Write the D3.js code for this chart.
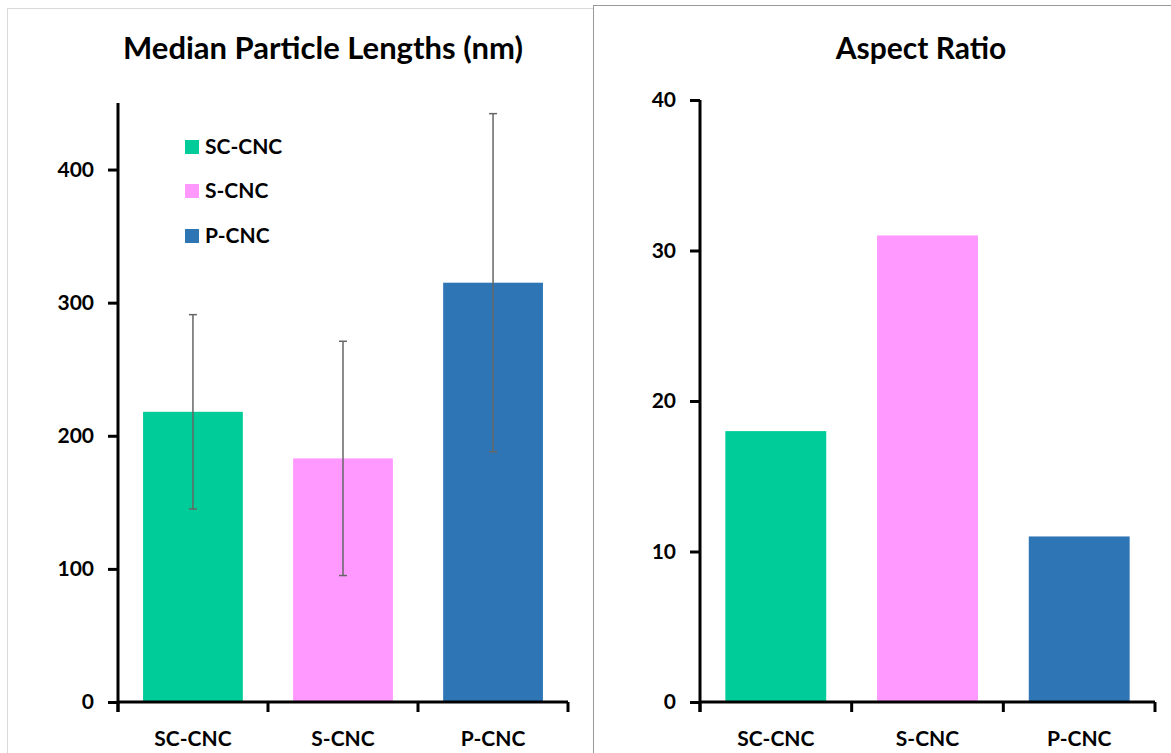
<!DOCTYPE html>
<html>
<head>
<meta charset="utf-8">
<script src="https://d3js.org/d3.v7.min.js"></script>
<style>
    body { margin: 0; background: #fff; font-family: "Lato", "Liberation Sans", sans-serif; }
    .title { font-weight: bold; text-anchor: middle; fill: #000; }
    .axis path, .axis line { stroke: #000; stroke-width: 3; }
    .axis text { font-size: 21px; font-weight: bold; fill: #000; font-family: "Lato", sans-serif; }
    .legend text { font-size: 21px; font-weight: bold; fill: #000; }
    .err { stroke: #666; stroke-width: 1.5; }
</style>
</head>
<body>
<script>
    // data
    var categories = ["SC-CNC", "S-CNC", "P-CNC"];
    var colors = ["#00CC99", "#FF99FF", "#2E75B6"];
    var lengths = [218, 183, 315];
    var lengthErr = [73, 88, 127];
    var lengthTicks = [0, 100, 200, 300, 400];
    var aspect = [18, 31, 11];
    var aspectTicks = [0, 10, 20, 30, 40];

    var svg = d3.select("body").append("svg")
        .attr("width", 1171)
        .attr("height", 753);

    // panel frames
    svg.append("rect")
        .attr("x", 7.5).attr("y", 8.5)
        .attr("width", 586).attr("height", 760)
        .attr("fill", "none").attr("stroke", "#d9d9d9");
    svg.append("rect")
        .attr("x", 593.5).attr("y", 5.5)
        .attr("width", 600).attr("height", 760)
        .attr("fill", "white").attr("stroke", "#999");

    function drawChart(opts) {
        var g = svg.append("g");

        var x = d3.scaleBand()
            .domain(categories)
            .range([opts.left, opts.right])
            .paddingInner(0.335)
            .paddingOuter(0.167);

        var y = d3.scaleLinear()
            .domain([0, opts.max])
            .range([opts.bottom, opts.top]);

        g.append("text")
            .attr("class", "title")
            .attr("x", opts.titleX)
            .attr("y", 59)
            .style("font-size", opts.titleSize + "px")
            .text(opts.title);

        g.selectAll(".bar")
            .data(opts.values)
            .enter().append("rect")
            .attr("class", "bar")
            .attr("x", function(d, i) { return x(categories[i]); })
            .attr("y", function(d) { return y(d); })
            .attr("width", x.bandwidth())
            .attr("height", function(d) { return y(0) - y(d); })
            .attr("fill", function(d, i) { return colors[i]; });

        if (opts.errors) {
            var eg = g.selectAll(".errg")
                .data(opts.values)
                .enter().append("g");
            eg.append("line")
                .attr("class", "err")
                .attr("x1", function(d, i) { return x(categories[i]) + x.bandwidth() / 2; })
                .attr("x2", function(d, i) { return x(categories[i]) + x.bandwidth() / 2; })
                .attr("y1", function(d, i) { return y(d + opts.errors[i]); })
                .attr("y2", function(d, i) { return y(d - opts.errors[i]); });
            [1, -1].forEach(function(s) {
                eg.append("line")
                    .attr("class", "err")
                    .attr("x1", function(d, i) { return x(categories[i]) + x.bandwidth() / 2 - 4; })
                    .attr("x2", function(d, i) { return x(categories[i]) + x.bandwidth() / 2 + 4; })
                    .attr("y1", function(d, i) { return y(d + s * opts.errors[i]); })
                    .attr("y2", function(d, i) { return y(d + s * opts.errors[i]); });
            });
        }

        // y axis
        var yAxis = g.append("g")
            .attr("class", "axis")
            .attr("transform", "translate(" + opts.left + ",0)")
            .call(d3.axisLeft(y).tickValues(opts.ticks).tickSize(10).tickSizeOuter(0).tickPadding(14));
        yAxis.select(".domain").attr("d", "M0," + opts.top + "V" + (opts.bottom + 10));

        // x axis with ticks at band edges
        var xAxis = g.append("g")
            .attr("class", "axis")
            .attr("transform", "translate(0," + opts.bottom + ")");
        xAxis.append("path")
            .attr("d", "M" + opts.left + ",0H" + opts.right)
            .attr("fill", "none");
        var edges = d3.range(categories.length + 1).map(function(i) {
            return opts.left + (opts.right - opts.left) * i / categories.length;
        });
        xAxis.selectAll(".edge")
            .data(edges)
            .enter().append("line")
            .attr("x1", function(d) { return d; })
            .attr("x2", function(d) { return d; })
            .attr("y1", 0)
            .attr("y2", 10);
        xAxis.selectAll(".lab")
            .data(categories)
            .enter().append("text")
            .attr("x", function(d) { return x(d) + x.bandwidth() / 2; })
            .attr("y", 44)
            .attr("text-anchor", "middle")
            .text(function(d) { return d; });

        return g;
    }

    drawChart({
        title: "Median Particle Lengths (nm)", titleX: 323, titleSize: 31,
        left: 118, right: 568, top: 103, bottom: 702, max: 450,
        values: lengths, errors: lengthErr, ticks: lengthTicks
    });

    drawChart({
        title: "Aspect Ratio", titleX: 921, titleSize: 30,
        left: 700, right: 1155, top: 100, bottom: 702, max: 40,
        values: aspect, ticks: aspectTicks
    });

    // legend
    var legend = svg.append("g").attr("class", "legend");
    var legendY = [147, 191, 236];
    legend.selectAll("rect")
        .data(categories)
        .enter().append("rect")
        .attr("x", 185)
        .attr("y", function(d, i) { return legendY[i] - 7; })
        .attr("width", 14)
        .attr("height", 14)
        .attr("fill", function(d, i) { return colors[i]; });
    legend.selectAll("text")
        .data(categories)
        .enter().append("text")
        .attr("x", 205)
        .attr("y", function(d, i) { return legendY[i] + 7; })
        .text(function(d) { return d; });
</script>
</body>
</html>
